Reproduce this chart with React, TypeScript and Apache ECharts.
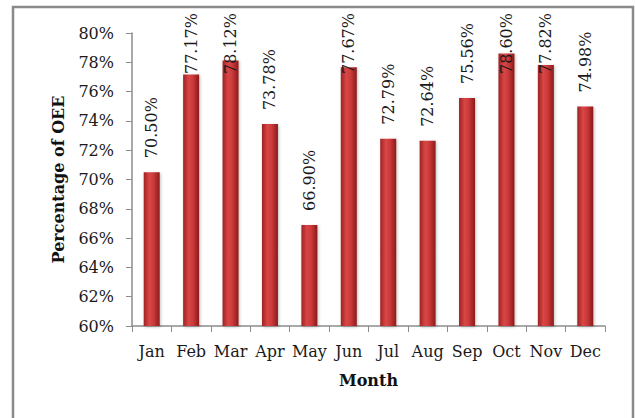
import React, { useEffect, useRef } from "react";
import * as echarts from "echarts";

const months = ["Jan", "Feb", "Mar", "Apr", "May", "Jun", "Jul", "Aug", "Sep", "Oct", "Nov", "Dec"];
const oee = [70.5, 77.17, 78.12, 73.78, 66.9, 77.67, 72.79, 72.64, 75.56, 78.6, 77.82, 74.98];
const yMin = 60;
const yMax = 80;
const yStep = 2;

const FONT = "'DejaVu Serif', 'Liberation Serif', serif";
const LABEL_SIZE = 16;
const LABEL_DIST = 14;
const LABEL_TOP_LIMIT = 13;

function measure(text: string): number {
  const c = document.createElement("canvas");
  const ctx = c.getContext("2d");
  if (!ctx) return text.length * 9;
  ctx.font = `${LABEL_SIZE}px ${FONT}`;
  return ctx.measureText(text).width;
}

const fmt = (v: number) => `${v.toFixed(2)}%`;

export default function App() {
  const ref = useRef<HTMLDivElement>(null);
  useEffect(() => {
    if (!ref.current) return;
    const chart = echarts.init(ref.current, undefined, { renderer: "svg" });
    const baseLabel = {
      show: true,
      position: "top",
      rotate: 90,
      align: "left",
      verticalAlign: "middle",
      distance: LABEL_DIST,
      fontFamily: FONT,
      fontSize: LABEL_SIZE,
      color: "#1a1a1a",
      formatter: (p: any) => fmt(p.value),
    };
    const option: any = {
      animation: false,
      backgroundColor: "#ffffff",
      graphic: [
        {
          type: "rect",
          shape: { x: 13, y: 7, width: 620, height: 440 },
          style: { fill: "none", stroke: "#8a8a8a", lineWidth: 2.5 },
          silent: true,
        },
      ],
      grid: { left: 132, right: 30, top: 33, bottom: 92 },
      xAxis: {
        type: "category",
        data: months,
        name: "Month",
        nameLocation: "middle",
        nameGap: 46,
        nameTextStyle: { fontFamily: FONT, fontWeight: "bold", fontSize: 16, color: "#111" },
        axisLine: { lineStyle: { color: "#8c8c8c", width: 1.5 } },
        axisTick: { show: true, length: 6, lineStyle: { color: "#8c8c8c" } },
        axisLabel: { fontFamily: FONT, fontSize: 16, color: "#1a1a1a", margin: 17, interval: 0 },
      },
      yAxis: {
        type: "value",
        min: yMin,
        max: yMax,
        interval: yStep,
        name: "Percentage of OEE",
        nameLocation: "middle",
        nameGap: 66,
        nameTextStyle: { fontFamily: FONT, fontWeight: "bold", fontSize: 16, color: "#111" },
        axisLine: { show: true, lineStyle: { color: "#8c8c8c", width: 1.5 } },
        axisTick: { show: true, length: 6, lineStyle: { color: "#8c8c8c" } },
        splitLine: { show: false },
        axisLabel: {
          fontFamily: FONT,
          fontSize: 16,
          color: "#1a1a1a",
          margin: 18,
          formatter: (v: number) => `${v}%`,
        },
      },
      series: [
        {
          type: "bar",
          data: oee,
          barWidth: 16,
          itemStyle: {
            color: new echarts.graphic.LinearGradient(0, 0, 1, 0, [
              { offset: 0, color: "#9e2222" },
              { offset: 0.35, color: "#d94646" },
              { offset: 0.6, color: "#cc3a3a" },
              { offset: 1, color: "#8c1a1a" },
            ]),
            shadowColor: "rgba(0,0,0,0.25)",
            shadowBlur: 3,
            shadowOffsetX: 1,
            shadowOffsetY: 1,
          },
          label: baseLabel,
        },
      ],
    };
    chart.setOption(option);

    // Clamp labels that would run past the top of the chart (as the original does)
    const data = oee.map((v) => {
      const barTop = chart.convertToPixel({ yAxisIndex: 0 }, v) as number;
      const w = measure(fmt(v));
      const top = barTop - LABEL_DIST - w;
      if (top < LABEL_TOP_LIMIT) {
        const anchorRel = LABEL_TOP_LIMIT + w - barTop;
        return { value: v, label: { position: ["50%", anchorRel] } };
      }
      return v;
    });
    chart.setOption({ series: [{ data }] });
    return () => chart.dispose();
  }, []);
  return (
    <div
      ref={ref}
      style={{ position: "absolute", left: 0, top: 0, width: 635, height: 418 }}
    />
  );
}
